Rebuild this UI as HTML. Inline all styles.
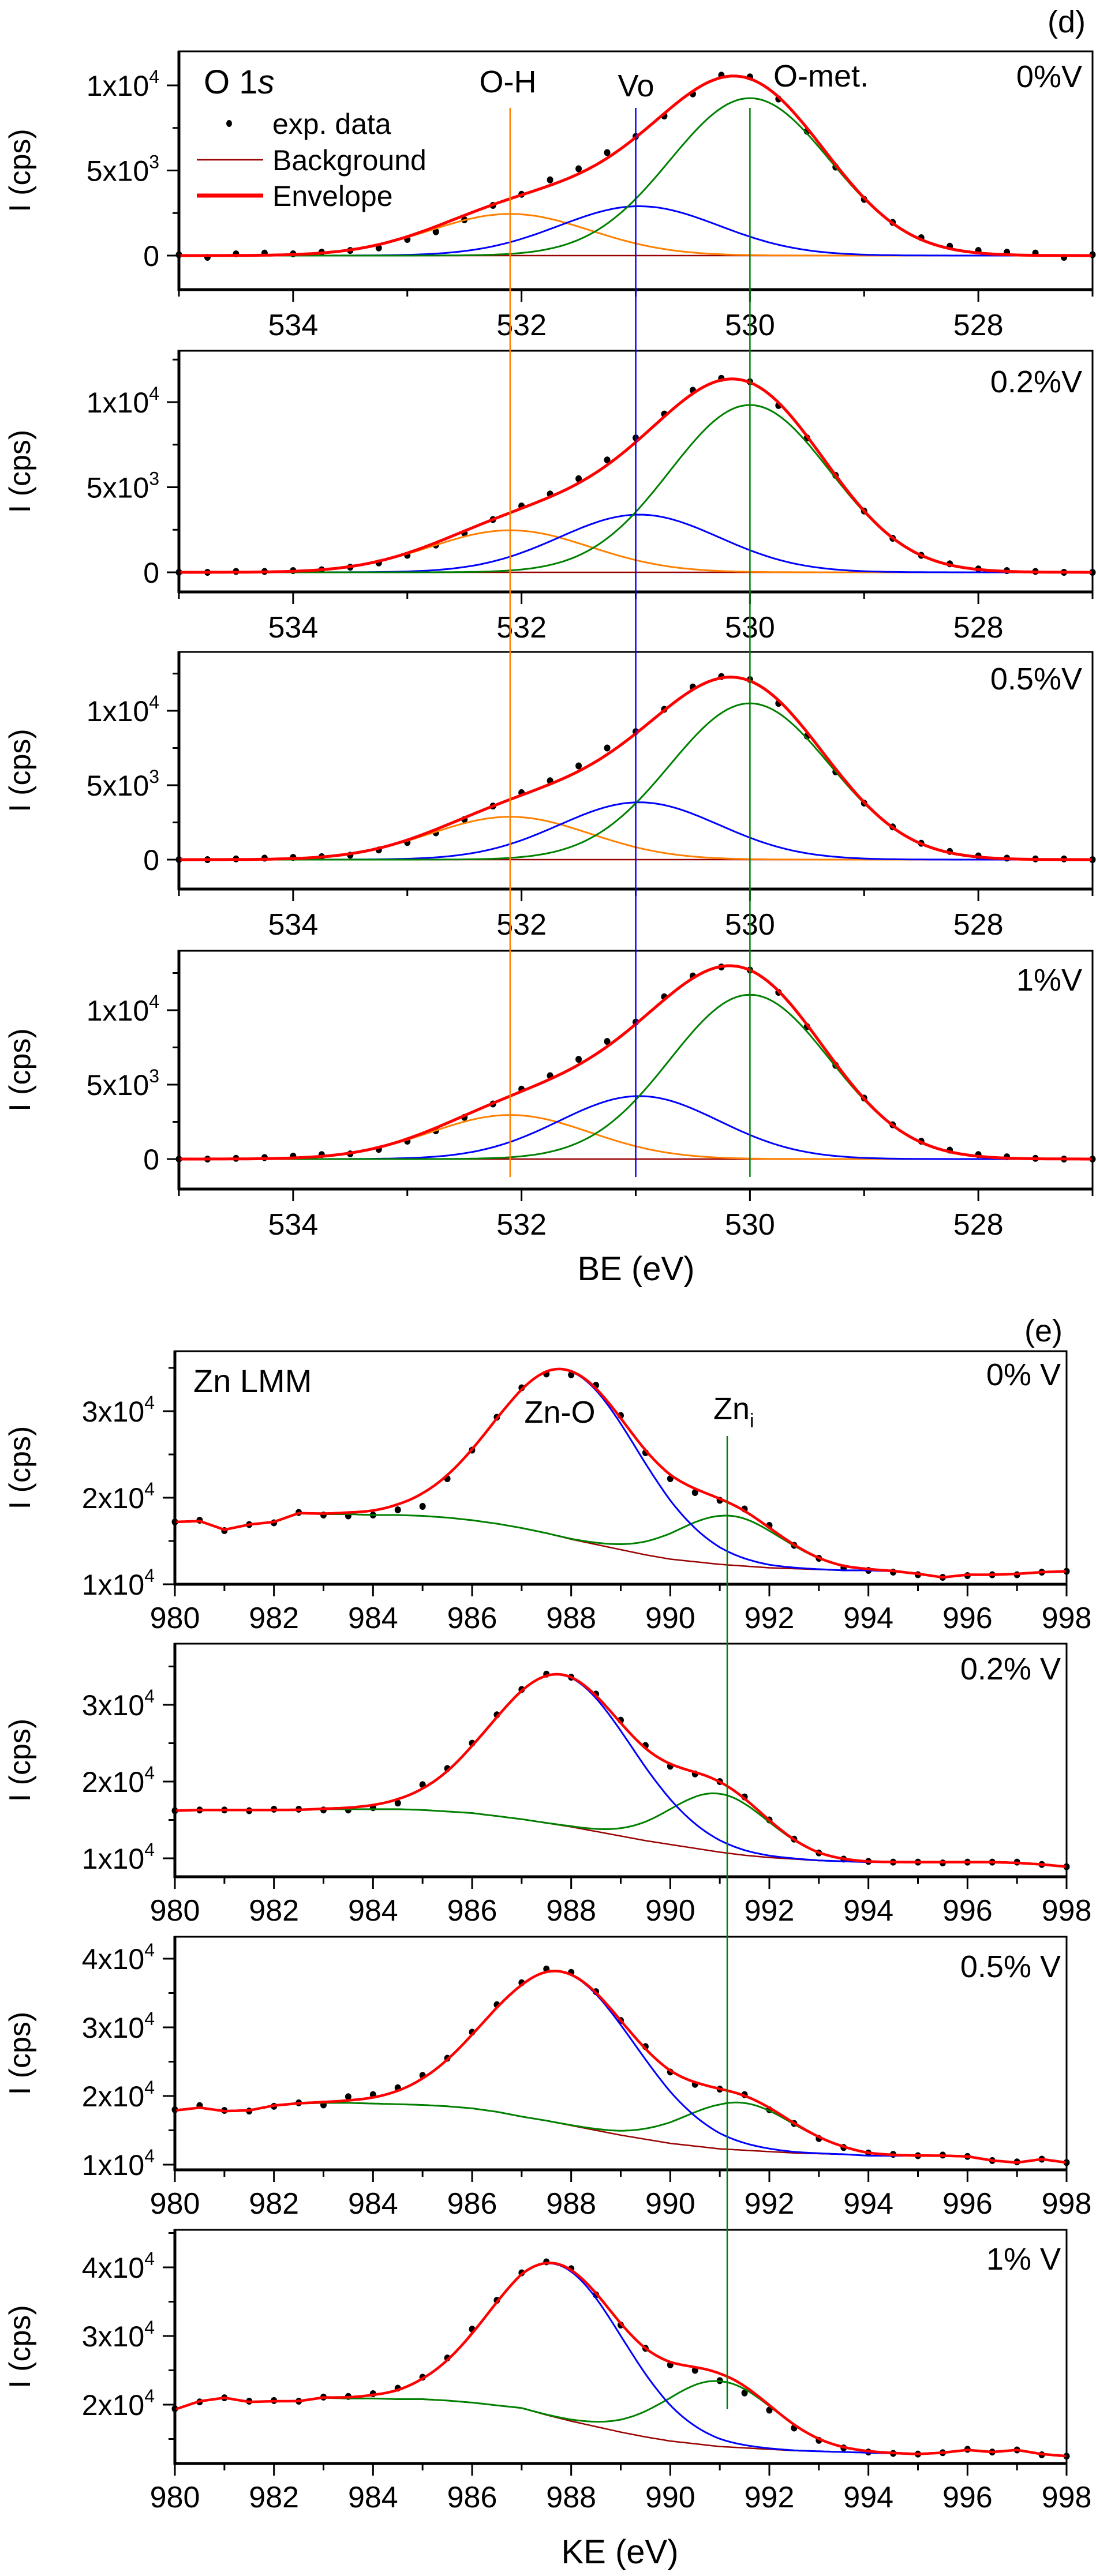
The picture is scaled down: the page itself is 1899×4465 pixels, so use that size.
<!DOCTYPE html>
<html><head><meta charset="utf-8"><style>
html,body{margin:0;padding:0;background:#fff}
svg{display:block;font-family:"Liberation Sans",Arial,sans-serif}
</style></head><body>
<svg id="chart" xmlns="http://www.w3.org/2000/svg" width="1899" height="4465" viewBox="0 0 1899 4465">
<rect x="0" y="0" width="1899" height="4465" fill="#fff"/>
</svg>
<script>
// ---------- O 1s data (units: 1e3 cps) ----------
const dEnergies=[535,534.75,534.5,534.25,534,533.75,533.5,533.25,533,532.75,532.5,532.25,532,531.75,531.5,531.25,531,530.75,530.5,530.25,530,529.75,529.5,529.25,529,528.75,528.5,528.25,528,527.75,527.5,527.25,527];
const dExp1=[0.05,-0.1,0.1,0.15,0.1,0.2,0.3,0.45,0.95,1.4,2.1,2.95,3.6,4.45,5.1,6.05,7.0,8.2,9.5,10.6,10.5,9.2,7.3,5.2,3.3,1.95,1.05,0.55,0.3,0.2,0.15,-0.1,0.05];
const dExp2=[0,0,0.05,0.05,0.1,0.15,0.3,0.55,1.0,1.6,2.3,3.1,3.9,4.6,5.5,6.6,7.9,9.3,10.7,11.4,11.2,9.8,7.9,5.7,3.6,2.0,1.0,0.5,0.2,0.1,0.05,0,0];
const dExp3=[0,0,0.05,0.1,0.15,0.2,0.3,0.65,1.15,1.8,2.7,3.6,4.5,5.3,6.3,7.5,8.6,10.1,11.6,12.3,12.1,10.5,8.3,5.9,3.8,2.2,1.1,0.55,0.25,0.1,0.05,0.05,0];
const dExp4=[0,0,0.05,0.1,0.2,0.3,0.35,0.65,1.2,1.9,2.8,3.7,4.7,5.6,6.7,7.9,9.2,10.9,12.3,12.9,12.7,11.2,8.9,6.3,4.1,2.3,1.2,0.6,0.3,0.15,0.05,0,0];
const dCenters=[532.1,530.97,530.0];
const dSigmas=[0.70,0.70,0.70];
const dOH=[2.45,2.47,2.88,2.96];
const dVo=[2.9,3.39,3.85,4.23];
const dOmet=[9.25,9.83,10.5,11.04];
const dLabels=['0%V','0.2%V','0.5%V','1%V'];
const dXTicks=[534,532,530,528];
const dYTicks=[0,5,10];
const dYTickText=['0','5x10','1x10'];
const dYTickSup=['','3','4'];
const dRefLines=[532.1,531.0,530.0];

// ---------- Zn LMM data (units: 1e4 cps) ----------
const eEnergies=[980,980.5,981,981.5,982,982.5,983,983.5,984,984.5,985,985.5,986,986.5,987,987.5,988,988.5,989,989.5,990,990.5,991,991.5,992,992.5,993,993.5,994,994.5,995,995.5,996,996.5,997,997.5,998];
const eExp1=[1.72,1.74,1.62,1.69,1.71,1.83,1.80,1.79,1.80,1.86,1.90,2.22,2.55,2.93,3.27,3.43,3.42,3.30,2.95,2.52,2.22,2.06,1.97,1.87,1.68,1.45,1.30,1.19,1.16,1.14,1.11,1.08,1.10,1.11,1.11,1.14,1.15];
const eExp2=[1.62,1.63,1.63,1.62,1.64,1.64,1.63,1.63,1.66,1.72,1.96,2.17,2.50,2.87,3.20,3.40,3.36,3.14,2.80,2.47,2.20,2.10,2.00,1.80,1.50,1.25,1.07,0.99,0.96,0.95,0.95,0.94,0.95,0.95,0.95,0.92,0.89];
const eExp3=[1.80,1.86,1.79,1.78,1.85,1.90,1.87,1.99,2.02,2.12,2.30,2.55,2.93,3.33,3.65,3.85,3.80,3.52,3.10,2.72,2.35,2.17,2.10,2.02,1.80,1.60,1.38,1.25,1.17,1.15,1.13,1.14,1.12,1.06,1.04,1.08,1.03];
const eExp4=[1.94,2.04,2.10,2.05,2.06,2.05,2.11,2.12,2.16,2.24,2.40,2.68,3.10,3.52,3.92,4.08,3.98,3.60,3.16,2.82,2.58,2.50,2.35,2.17,1.92,1.66,1.48,1.37,1.31,1.29,1.28,1.30,1.35,1.31,1.34,1.27,1.25];
const eBg1=[1.72,1.73,1.63,1.69,1.72,1.82,1.81,1.81,1.80,1.80,1.79,1.77,1.74,1.70,1.65,1.59,1.52,1.46,1.40,1.34,1.29,1.26,1.23,1.21,1.19,1.18,1.17,1.16,1.16,1.15,1.12,1.08,1.11,1.11,1.12,1.14,1.15];
const eBg2=[1.62,1.63,1.63,1.63,1.63,1.63,1.64,1.64,1.64,1.64,1.63,1.61,1.59,1.55,1.51,1.46,1.41,1.35,1.29,1.23,1.18,1.13,1.08,1.04,1.01,0.99,0.97,0.96,0.95,0.95,0.95,0.95,0.95,0.95,0.94,0.92,0.89];
const eBg3=[1.79,1.83,1.78,1.79,1.86,1.89,1.90,1.90,1.89,1.88,1.87,1.85,1.82,1.77,1.70,1.64,1.57,1.50,1.43,1.37,1.31,1.27,1.23,1.21,1.19,1.17,1.16,1.15,1.13,1.13,1.13,1.13,1.12,1.06,1.03,1.08,1.03];
const eBg4=[1.93,2.05,2.10,2.04,2.05,2.05,2.10,2.09,2.09,2.08,2.08,2.06,2.03,1.99,1.95,1.85,1.76,1.68,1.60,1.53,1.47,1.43,1.39,1.37,1.35,1.33,1.32,1.31,1.30,1.29,1.28,1.30,1.34,1.31,1.34,1.28,1.25];
const eBlueC=[987.9,987.8,987.8,987.7];
const eBlueH=[1.94,1.96,2.21,2.23];
const eBlueS=[1.45,1.42,1.50,1.35];
const eGreenC=[991.2,991.0,991.4,991.0];
const eGreenH=[0.57,0.76,0.69,0.95];
const eGreenS=[1.05,1.0,1.1,1.1];
const eLabels=['0% V','0.2% V','0.5% V','1% V'];
const eXTicks=[980,982,984,986,988,990,992,994,996,998];
const eYTicks1=[1,2,3];
const eYTicks2=[1,2,3];
const eYTicks3=[1,2,3,4];
const eYTicks4=[2,3,4];
const eRefLine=991.15;

const NS='http://www.w3.org/2000/svg';
const svg=document.getElementById('chart');
function mk(tag,attrs,parent){const e=document.createElementNS(NS,tag);for(const k in attrs)e.setAttribute(k,attrs[k]);(parent||svg).appendChild(e);return e;}
function gauss(x,c,s,h){return h*Math.exp(-(x-c)*(x-c)/(2*s*s));}
function interp(xs,ys,x){if(x<=xs[0])return ys[0];for(let i=1;i<xs.length;i++){if(x<=xs[i]){const t=(x-xs[i-1])/(xs[i]-xs[i-1]);return ys[i-1]+t*(ys[i]-ys[i-1]);}}return ys[ys.length-1];}
function pathFrom(pts){return pts.map((p,i)=>(i?'L':'M')+p[0].toFixed(1)+' '+p[1].toFixed(1)).join(' ');}
function txt(parent,x,y,size,anchor,str){const t=mk('text',{x:x,y:y,'font-size':size,'text-anchor':anchor,fill:'#000'},parent);t.textContent=str;return t;}

function frame(g,xL,xR,top,bot){
  const r=mk('rect',{x:xL,y:top,width:xR-xL,height:bot-top,fill:'none',stroke:'#000','stroke-width':3},g);
  
  
  const l=mk('line',{x1:xL,y1:top-1,x2:xL,y2:bot+2,stroke:'#000','stroke-width':5},g);
  
  
  const b=mk('line',{x1:xL-2,y1:bot,x2:xR+1,y2:bot,stroke:'#000','stroke-width':5},g);
  
  
}
function yTitle(g,cy){
  const t=mk('text',{x:0,y:0,'font-size':52,'text-anchor':'middle',transform:'translate(52,'+cy+') rotate(-90)'},g);
  t.textContent='I (cps)';
  
  
}
function yTickLabel(g,x,y,main,sup){
  const t=mk('text',{x:x,y:y+18,'font-size':50,'text-anchor':'end'},g);
  const a=mk('tspan',{},t);a.textContent=main;
  if(sup){const s=mk('tspan',{dy:-22,'font-size':32},t);s.textContent=sup;}
  
  
}

// ================= O 1s panels =================
const dLayout=[{top:89,bot:502,y0:443,k:29.5},{top:608,bot:1026,y0:992,k:29.5},{top:1130,bot:1541,y0:1490,k:25.8},{top:1648,bot:2061,y0:2009,k:25.8}];
const dExpAll=[dExp1,dExp2,dExp3,dExp4];
const dxL=310,dxR=1893;
function dX(v){return dxL+(535-v)/8*(dxR-dxL);}
dLayout.forEach((L,p)=>{
  const g=mk('g',{});
  
  
  const dY=v=>L.y0-v*L.k;
  for(let v=0;v<=13;v+=2.5){const y=dY(v);if(y<L.top+3)continue;const major=(v%5===0);
    const t=mk('line',{x1:dxL-(major?21:11),x2:dxL,y1:y,y2:y,stroke:'#000','stroke-width':3},g);
    
    }
  dYTicks.forEach((v,i)=>yTickLabel(g,dxL-34,dY(v),dYTickText[i],dYTickSup[i]));
  for(let v=535;v>=527;v--){const x=dX(v);const major=(v%2===0);
    const t=mk('line',{x1:x,x2:x,y1:L.bot,y2:L.bot+(major?21:12),stroke:'#000','stroke-width':3},g);
    
    }
  dXTicks.forEach(v=>{const t=txt(g,dX(v),L.bot+79,52,'middle',String(v));
    
    });
  yTitle(g,(L.top+L.bot)/2);
  const bg=mk('line',{x1:dxL,x2:dxR,y1:dY(0),y2:dY(0),stroke:'#990000','stroke-width':2.5},g);
  
  
  dEnergies.forEach((e,i)=>{const c=mk('ellipse',{cx:dX(e),cy:dY(dExpAll[p][i]),rx:5.5,ry:6,fill:'#000'},g);
    
    });
  const hs=[dOH[p],dVo[p],dOmet[p]];const cols=['#ff8000','#0000ff','#008000'];const nm=['oh-component','vo-component','omet-component'];
  hs.forEach((h,j)=>{const pts=[];for(let v=535;v>=527-1e-9;v-=0.04)pts.push([dX(v),dY(gauss(v,dCenters[j],dSigmas[j],h))]);
    const pa=mk('path',{d:pathFrom(pts),fill:'none',stroke:cols[j],'stroke-width':3},g);
    
    });
  const env=[];for(let v=535;v>=527-1e-9;v-=0.04){let s=0;hs.forEach((h,j)=>s+=gauss(v,dCenters[j],dSigmas[j],h));env.push([dX(v),dY(s)]);}
  const ep=mk('path',{d:pathFrom(env),fill:'none',stroke:'#ff0000','stroke-width':5,'stroke-linejoin':'round'},g);
  
  
  frame(g,dxL,dxR,L.top,L.bot);
  const lb=txt(g,1875,[151,680,1195,1717][p],54,'end',dLabels[p]);
  
  
});
const refCols=['#ff8000','#0000ff','#008000'];const refNames=['oh-reference-line','vo-reference-line','omet-reference-line'];
dRefLines.forEach((v,j)=>{const l=mk('line',{x1:dX(v),x2:dX(v),y1:187,y2:2040,stroke:refCols[j],'stroke-width':2.5});
  
  });
let a;
a=mk('text',{x:353,y:162,'font-size':58});a.innerHTML='O 1<tspan font-style="italic">s</tspan>';


a=txt(svg,880,160,54,'middle','O-H');


a=txt(svg,1102,167,54,'middle','Vo');


a=txt(svg,1340,150,54,'start','O-met.');


a=txt(svg,1881,56,54,'end','(d)');


const lg=mk('g',{});


a=mk('ellipse',{cx:397,cy:214,rx:5,ry:6,fill:'#000'},lg);


a=txt(lg,472,232,50,'start','exp. data');


a=mk('line',{x1:341,x2:456,y1:277,y2:277,stroke:'#990000','stroke-width':2.5},lg);


a=txt(lg,472,295,50,'start','Background');


a=mk('line',{x1:341,x2:456,y1:339,y2:339,stroke:'#ff0000','stroke-width':7},lg);


a=txt(lg,472,357,50,'start','Envelope');


a=txt(svg,1102,2219,58,'middle','BE (eV)');



// ================= Zn LMM panels =================
const eLayout=[{top:2342,bot:2746,ref:1,yref:2746,k:150,lab:2401},{top:2849,bot:3253,ref:1,yref:3221,k:133,lab:2911},{top:3357,bot:3761,ref:1,yref:3752,k:119,lab:3427},{top:3865,bot:4270,ref:2,yref:4168,k:119,lab:3934}];
const eExpAll=[eExp1,eExp2,eExp3,eExp4];
const eBgAll=[eBg1,eBg2,eBg3,eBg4];
const eYTicksAll=[eYTicks1,eYTicks2,eYTicks3,eYTicks4];
const exL=303,exR=1848;
function eX(v){return exL+(v-980)/18*(exR-exL);}
eLayout.forEach((L,p)=>{
  const g=mk('g',{});
  
  
  const eY=v=>L.yref-(v-L.ref)*L.k;
  for(let v=0.5;v<=5;v+=0.5){const y=eY(v);if(y<L.top+3||y>L.bot+1)continue;const major=(v%1===0);
    const t=mk('line',{x1:exL-(major?21:11),x2:exL,y1:y,y2:y,stroke:'#000','stroke-width':3},g);
    
    }
  eYTicksAll[p].forEach(v=>yTickLabel(g,exL-35,eY(v),v+'x10','4'));
  for(let v=980;v<=998;v++){const x=eX(v);const major=(v%2===0);
    const t=mk('line',{x1:x,x2:x,y1:L.bot,y2:L.bot+(major?21:12),stroke:'#000','stroke-width':3},g);
    
    }
  eXTicks.forEach(v=>{const t=txt(g,eX(v),L.bot+76,52,'middle',String(v));
    
    });
  yTitle(g,(L.top+L.bot)/2);
  eEnergies.forEach((e,i)=>{const c=mk('ellipse',{cx:eX(e),cy:eY(eExpAll[p][i]),rx:5.5,ry:6,fill:'#000'},g);
    
    });
  const bgv=v=>interp(eEnergies,eBgAll[p],v);
  const bgPts=[],gPts=[],bPts=[],envPts=[];
  for(let v=980;v<=998+1e-9;v+=0.05){const b=bgv(v);const bl=gauss(v,eBlueC[p],eBlueS[p],eBlueH[p]);const gr=gauss(v,eGreenC[p],eGreenS[p],eGreenH[p]);
    bgPts.push([eX(v),eY(b)]);
    if(v>=982.5&&v<=994.5)gPts.push([eX(v),eY(b+gr)]);
    if(v>=983.5&&v<=995.5)bPts.push([eX(v),eY(b+bl)]);
    envPts.push([eX(v),eY(b+bl+gr)]);}
  let pa=mk('path',{d:pathFrom(bgPts),fill:'none',stroke:'#990000','stroke-width':2.5},g);
  
  
  pa=mk('path',{d:pathFrom(gPts),fill:'none',stroke:'#008000','stroke-width':3},g);
  
  
  pa=mk('path',{d:pathFrom(bPts),fill:'none',stroke:'#0000ff','stroke-width':3},g);
  
  
  pa=mk('path',{d:pathFrom(envPts),fill:'none',stroke:'#ff0000','stroke-width':4.5,'stroke-linejoin':'round'},g);
  
  
  frame(g,exL,exR,L.top,L.bot);
  const lb=txt(g,1838,L.lab,54,'end',eLabels[p]);
  
  
});
a=mk('line',{x1:eX(eRefLine),x2:eX(eRefLine),y1:2489,y2:4176,stroke:'#008000','stroke-width':2.5});


a=txt(svg,335,2413,56,'start','Zn LMM');


a=txt(svg,970,2466,54,'middle','Zn-O');


a=mk('text',{x:1236,y:2460,'font-size':54});a.innerHTML='Zn<tspan font-size="34" dy="14">i</tspan>';


a=txt(svg,1841,2325,54,'end','(e)');


a=txt(svg,1074,4443,58,'middle','KE (eV)');


</script>
</body></html>
